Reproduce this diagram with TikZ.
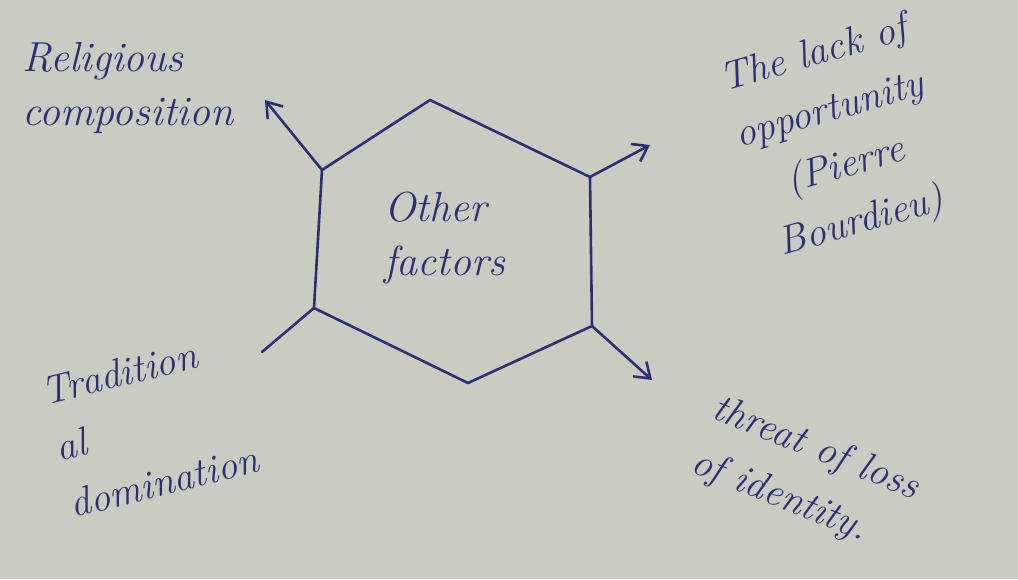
\documentclass[tikz,border=0pt]{standalone}
\usepackage{tikz}
\usetikzlibrary{arrows.meta,calc}
\definecolor{ink}{HTML}{2B2F78}
\definecolor{paper}{HTML}{CBCCC1}
\tikzset{
  >={Straight Barb[length=5mm,width=7mm]},
  lab/.style={font=\itshape\fontsize{42}{54}\selectfont,text=ink,align=left,inner sep=0pt},
  tlab/.style={lab,font=\itshape\fontsize{40}{58}\selectfont},
  hexline/.style={draw=ink,line width=2.6pt,line join=round,line cap=round},
  arr/.style={hexline,->},
}
\begin{document}
\begin{tikzpicture}[x=1pt,y=-1pt]
\fill[paper] (0,0) rectangle (1018,579);
\useasboundingbox (0,0) rectangle (1018,579);
% hexagon corners
\coordinate (hT)  at (430,100);
\coordinate (hUR) at (590,177);
\coordinate (hLR) at (592,326);
\coordinate (hB)  at (468,383);
\coordinate (hLL) at (314,308);
\coordinate (hUL) at (322,170);
\draw[hexline] (hUL) -- (hT) -- (hUR) -- (hLR) -- (hB) -- (hLL) -- cycle;
\node[lab] (other) at (445,238) {Other\\factors};
% factors round it
\node[lab] (relig) at (128,88) {Religious\\composition};
\node[tlab,align=center,rotate=16] (lack) at (838,140) {The lack of\\opportunity\\(Pierre\\Bourdieu)};
\node[tlab,rotate=14] (trad) at (150,425) {Tradition\\al\\domination};
\node[tlab,rotate=-22] (threat) at (805,476) {threat of loss\\of identity.};
% arrows
\coordinate (tRel) at (265,100);
\coordinate (tLack) at (650,145);
\coordinate (tThr) at (652,380);
\coordinate (tTrad) at (262,352);
\draw[arr] (hUL) -- (tRel);
\draw[arr] (hUR) -- (tLack);
\draw[arr] (hLR) -- (tThr);
\draw[hexline] (hLL) -- (tTrad);
\end{tikzpicture}
\end{document}
